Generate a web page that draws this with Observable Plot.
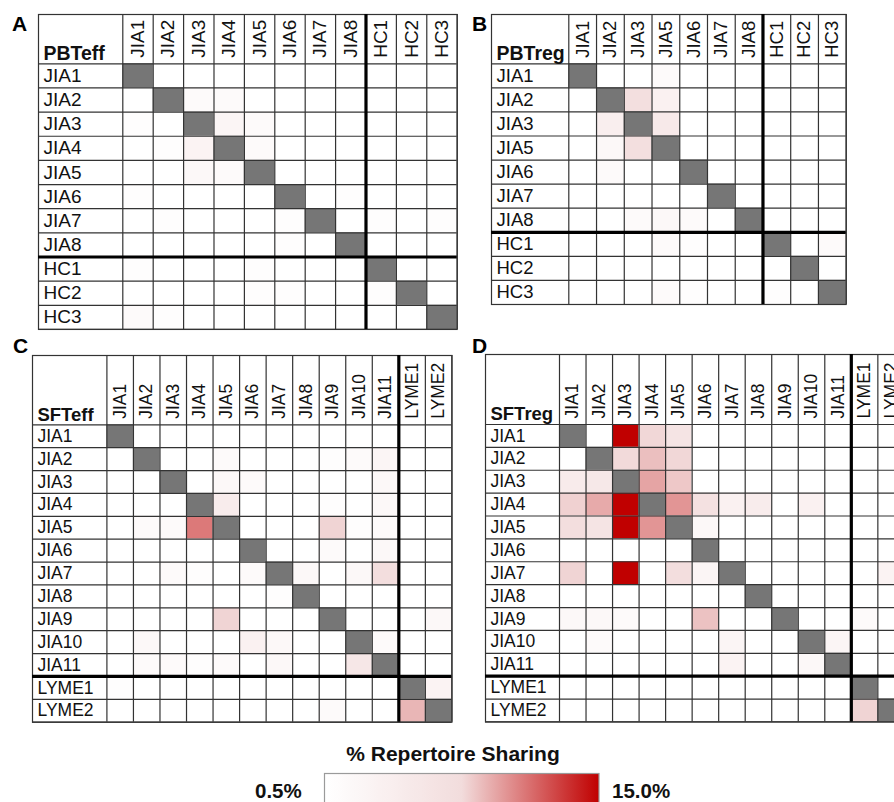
<!DOCTYPE html>
<html><head><meta charset="utf-8">
<script src="https://cdn.jsdelivr.net/npm/d3@7"></script>
<script src="https://cdn.jsdelivr.net/npm/@observablehq/plot@0.6"></script>
<style>
html,body{margin:0;padding:0;background:#fff;}
#root{position:relative;width:894px;height:802px;overflow:hidden;font-family:"Liberation Sans",Arial,Helvetica,sans-serif;}
#root svg{position:absolute;}
</style></head><body><div id="root"></div>
<script>
// ---------- data ----------
const colorDomain = [0.5, 7.75, 15];
const colorRange = ["#ffffff", "#f2dcdc", "#c00000"];
const legendTitle = "% Repertoire Sharing";
const legendLabels = ["0.5%", "15.0%"];
const panelLetters = ["A", "B", "C", "D"];
const cornerLabels = ["PBTeff", "PBTreg", "SFTeff", "SFTreg"];

// PBTeff (null = same sample)
const pbteffSamples = ["JIA1","JIA2","JIA3","JIA4","JIA5","JIA6","JIA7","JIA8","HC1","HC2","HC3"];
const pbteffSplit = 8;
const pbteffValues = [
  [null,.5,.5,.5,.5,.5,.5,.5,.5,.5,.5],
  [.5,null,1.5,1.5,.5,.5,.5,.5,.5,.5,.5],
  [1,.5,null,2.5,1.5,.5,.5,.5,.5,.5,.5],
  [.5,1,3,null,1.5,.5,.5,.5,.5,.5,.5],
  [.5,.5,2,1.5,null,.5,.5,.5,.5,.5,.5],
  [1,.5,.5,.5,.5,null,.5,1,.5,.5,.5],
  [.5,1,.5,.5,.5,1,null,.5,1,.5,1],
  [.5,.5,.5,.5,.5,1,.5,null,.5,.5,.5],
  [1,.5,.5,.5,1,.5,.5,.5,null,.5,.5],
  [.5,.5,.5,.5,1,1,.5,.5,1,null,.5],
  [1.5,1,.5,.5,.5,.5,.5,.5,.5,.5,null]
];

// PBTreg
const pbtregSamples = ["JIA1","JIA2","JIA3","JIA5","JIA6","JIA7","JIA8","HC1","HC2","HC3"];
const pbtregSplit = 7;
const pbtregValues = [
  [null,.5,.5,1.5,.5,.5,.5,.5,.5,.5],
  [.5,null,7.2,3.5,.5,.5,.5,.5,.5,.5],
  [.5,4,null,5,.5,.5,.5,.5,.5,.5],
  [.5,2,7.2,null,.5,.5,.5,.5,.5,.5],
  [.5,1.5,.5,.5,null,.5,.5,.5,.5,.5],
  [.5,.5,.5,.5,.5,null,.5,.5,.5,.5],
  [.5,.5,1.5,2,1.5,.5,null,.5,.5,.5],
  [.5,.5,.5,1.5,1,.5,.5,null,.5,1.5],
  [.5,.5,.5,.5,.5,.5,.5,.5,null,.5],
  [.5,.5,.5,1.5,1,.5,.5,1,.5,null]
];

// SFTeff
const sfteffSamples = ["JIA1","JIA2","JIA3","JIA4","JIA5","JIA6","JIA7","JIA8","JIA9","JIA10","JIA11","LYME1","LYME2"];
const sfteffSplit = 11;
const sfteffValues = [
  [null,.5,.5,.5,.5,.5,.5,.5,.5,.5,.5,.5,.5],
  [.5,null,.5,.5,1.5,.5,.5,.5,1,1.5,2.5,.5,.5],
  [.5,.5,null,.5,2,1.5,.5,.5,.5,.5,2,.5,.5],
  [.5,.5,.5,null,4.5,.5,.5,.5,1,.5,2,.5,.5],
  [.5,1.5,1.5,11,null,.5,.5,.5,8,1,1.5,.5,.5],
  [.5,.5,.5,.5,.5,null,.5,.5,1.5,.5,2,.5,.5],
  [.5,.5,1.5,1,.5,1.5,null,2,.5,2,7.3,.5,.5],
  [.5,.5,.5,.5,.5,.5,1,null,.5,.5,.5,.5,.5],
  [.5,.5,.5,.5,8,.5,.5,.5,null,.5,.5,.5,2],
  [.5,2,.5,.5,.5,3.5,2,.5,.5,null,1.5,.5,.5],
  [.5,1.5,1.5,1,1.5,.5,2,.5,.5,5.5,null,.5,.5],
  [1,.5,.5,.5,.5,.5,.5,.5,.5,.5,.5,null,3],
  [.5,.5,.5,.5,.5,.5,.5,.5,1.5,.5,.5,9,null]
];

// SFTreg
const sftregSamples = ["JIA1","JIA2","JIA3","JIA4","JIA5","JIA6","JIA7","JIA8","JIA9","JIA10","JIA11","LYME1","LYME2"];
const sftregSplit = 11;
const sftregValues = [
  [null,.5,15,7.9,6.1,.5,.5,.5,.5,.5,.5,.5,.5],
  [.5,null,7.8,8.7,7.9,.5,.5,.5,.5,.5,.5,.5,.5],
  [4.6,5.3,null,9.6,8.4,.5,.5,.5,.5,.5,.5,.5,.5],
  [8.1,9.4,15,null,10.1,6.7,3.5,4.5,.5,3.5,.5,.5,.5],
  [7.3,6.1,15,10.1,null,2,.5,.5,.5,.5,.5,.5,.5],
  [.5,.5,.5,.5,.5,null,.5,.5,.5,.5,.5,.5,.5],
  [8,.5,15,.5,7.3,2.6,null,.5,.5,.5,.5,.5,3],
  [.5,.5,.5,.5,.5,.5,.5,null,.5,.5,.5,.5,.5],
  [2,2,1.5,.5,.5,8.6,.5,.5,null,.5,.5,1.5,.5],
  [.5,1.5,.5,.5,.5,.5,2.5,.5,.5,null,2.5,.5,.5],
  [.5,.5,.5,.5,.5,.5,3,.5,.5,2,null,.5,.5],
  [.5,.5,.5,.5,.5,.5,.5,.5,.5,.5,.5,null,.5],
  [.5,.5,.5,.5,.5,.5,.5,.5,.5,.5,.5,8,null]
];

// ---------- drawing ----------
const FONT = '"Liberation Sans", Arial, Helvetica, sans-serif';
const root = document.getElementById("root");
const colorOpts = {type: "linear", domain: colorDomain, range: colorRange, clamp: true};

function panel(cfg) {
  const {samples, values, corner, split, left, top, labelW, headerH, cw, ch, fs, cfs} = cfg;
  const n = samples.length;
  const pad = 3;
  const cells = [];
  values.forEach((row, i) => row.forEach((v, j) => cells.push({i, j, v})));
  const shared = cells.filter(d => d.v != null);
  const self = cells.filter(d => d.v == null);
  const W = labelW + pad + n * cw + pad;
  const H = headerH + pad + n * ch + pad;
  const line = {stroke: "#333", strokeWidth: 1.2};
  const svg = Plot.plot({
    width: W, height: H,
    marginLeft: labelW + pad, marginTop: headerH + pad, marginRight: pad, marginBottom: pad,
    x: {type: "linear", domain: [0, n], axis: null},
    y: {type: "linear", domain: [0, n], reverse: true, axis: null},
    color: colorOpts,
    style: {fontFamily: FONT, fontSize: fs + "px", color: "#000", background: "transparent", overflow: "visible"},
    marks: [
      Plot.rect(shared, {x1: "j", x2: d => d.j + 1, y1: "i", y2: d => d.i + 1, fill: "v"}),
      Plot.rect(self, {x1: "j", x2: d => d.j + 1, y1: "i", y2: d => d.i + 1, fill: "#767676"}),
      Plot.ruleX(d3.range(n + 1), {...line, insetTop: -headerH}),
      Plot.ruleY(d3.range(n + 1), {...line, insetLeft: -labelW}),
      Plot.frame({...line, insetTop: -headerH, insetLeft: -labelW}),
      Plot.ruleX([split], {stroke: "#000", strokeWidth: 3.2, insetTop: -headerH}),
      Plot.ruleY([split], {stroke: "#000", strokeWidth: 3.2, insetLeft: -labelW}),
      Plot.text(samples, {x: 0, y: (d, i) => i + 0.5, text: d => d, textAnchor: "start", dx: -labelW + 5, fontSize: fs, fill: "#111"}),
      Plot.text(samples, {x: (d, i) => i + 0.5, y: 0, text: d => d, rotate: -90, textAnchor: "start", dy: -6, fontSize: fs, fill: "#111"}),
      Plot.text([corner], {x: 0, y: 0, text: d => d, textAnchor: "start", lineAnchor: "bottom", dx: -labelW + 5, dy: -4, fontWeight: "bold", fontSize: cfs, fill: "#111"})
    ]
  });
  svg.style.left = (left - pad) + "px";
  svg.style.top = (top - pad) + "px";
  root.appendChild(svg);
}

panel({samples: pbteffSamples, values: pbteffValues, corner: cornerLabels[0], split: pbteffSplit,
  left: 38, top: 14, labelW: 84.3, headerH: 49.3, cw: 30.4, ch: 24.15, fs: 19, cfs: 19.5});
panel({samples: pbtregSamples, values: pbtregValues, corner: cornerLabels[1], split: pbtregSplit,
  left: 491, top: 14, labelW: 77.3, headerH: 49.3, cw: 27.74, ch: 24.07, fs: 18.5, cfs: 19.5});
panel({samples: sfteffSamples, values: sfteffValues, corner: cornerLabels[2], split: sfteffSplit,
  left: 32.3, top: 355, labelW: 74.4, headerH: 69.3, cw: 26.54, ch: 22.88, fs: 17.5, cfs: 18.5});
panel({samples: sftregSamples, values: sftregValues, corner: cornerLabels[3], split: sftregSplit,
  left: 485, top: 354.3, labelW: 74, headerH: 70, cw: 26.53, ch: 22.88, fs: 17.5, cfs: 18.5});

// overlay: panel letters and legend
const ov = d3.create("svg").attr("width", 894).attr("height", 802)
  .style("left", "0px").style("top", "0px").attr("font-family", FONT);
const letterPos = [[12, 31], [472, 31], [13, 353], [472, 353]];
panelLetters.forEach((L, k) => ov.append("text").attr("x", letterPos[k][0]).attr("y", letterPos[k][1])
  .attr("font-size", 21).attr("font-weight", "bold").text(L));

const cs = Plot.scale({color: colorOpts});
const grad = ov.append("defs").append("linearGradient").attr("id", "lg");
d3.range(0, 21).forEach(k => {
  const f = k / 20;
  grad.append("stop").attr("offset", f).attr("stop-color", cs.apply(colorDomain[0] + f * (colorDomain[2] - colorDomain[0])));
});
ov.append("rect").attr("x", 324.5).attr("y", 773.5).attr("width", 274.5).attr("height", 40)
  .attr("fill", "url(#lg)").attr("stroke", "#9a9a9a").attr("stroke-width", 1.2);
ov.append("text").attr("x", 453).attr("y", 761).attr("text-anchor", "middle")
  .attr("font-size", 21).attr("font-weight", "bold").attr("fill", "#111").text(legendTitle);
ov.append("text").attr("x", 255).attr("y", 798).attr("font-size", 20.5).attr("font-weight", "bold").attr("fill", "#111").text(legendLabels[0]);
ov.append("text").attr("x", 612).attr("y", 798).attr("font-size", 20.5).attr("font-weight", "bold").attr("fill", "#111").text(legendLabels[1]);
root.appendChild(ov.node());
</script></body></html>
